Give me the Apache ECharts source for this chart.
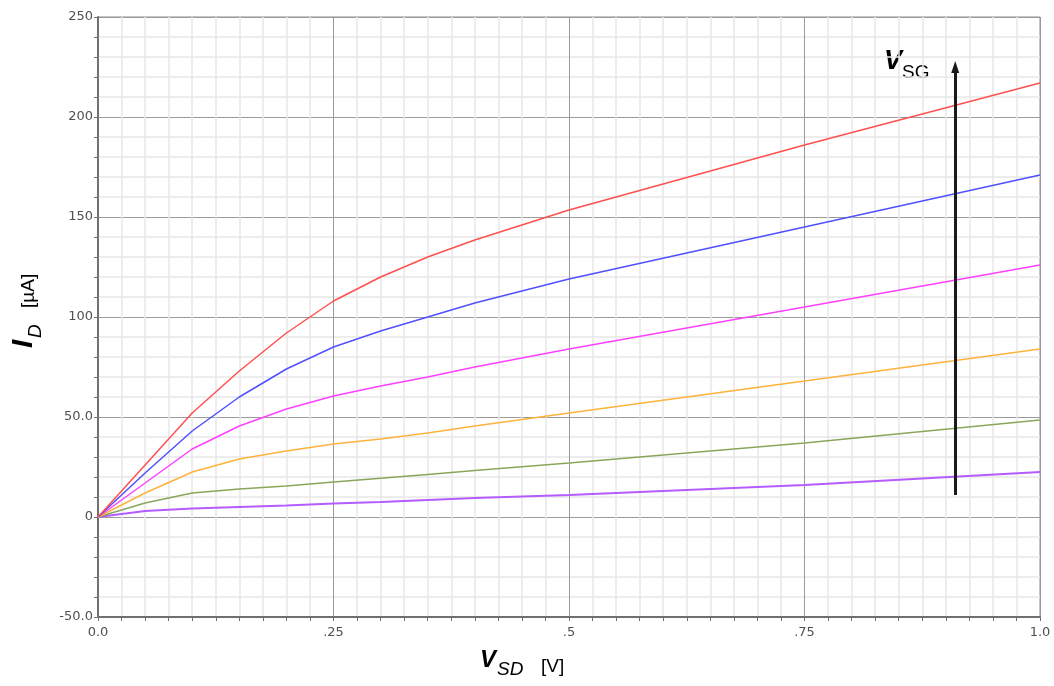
<!DOCTYPE html>
<html>
<head>
<meta charset="utf-8">
<script src="https://cdn.jsdelivr.net/npm/echarts@6/dist/echarts.min.js"></script>
<style>
  html, body { margin: 0; padding: 0; background: #ffffff; }
  #chart { width: 1054px; height: 686px; }
</style>
</head>
<body>
<div id="chart"></div>
<script>
// Source–drain voltage samples (V)
const vsd = [0, 0.05, 0.1, 0.15, 0.2, 0.25, 0.3, 0.35, 0.4, 0.45, 0.5, 0.75, 1.0];

// Drain current (µA) for six gate voltages, lowest to highest
const idVsg1 = [0, 3, 4.2, 5, 5.8, 6.7, 7.5, 8.5, 9.5, 10.3, 11, 16, 22.5];
const idVsg2 = [0, 7, 12, 14, 15.5, 17.5, 19.4, 21.3, 23.2, 25.1, 27, 37, 48.5];
const idVsg3 = [0, 12, 22.5, 29, 33, 36.5, 39, 42, 45.5, 48.8, 52, 68, 84];
const idVsg4 = [0, 17, 34, 45.5, 54, 60.5, 65.5, 70, 75, 79.5, 84, 105, 126];
const idVsg5 = [0, 22, 43, 60, 74, 85, 93, 100, 107, 113, 119, 145, 171];
const idVsg6 = [0, 26, 52, 73, 92, 108, 120, 130, 138.5, 146, 153.5, 186, 217];

const curveColors = ['#b45cff', '#8aa65a', '#ffb23c', '#ff40ff', '#5050ff', '#ff5050'];

// Axis tick positions and their printed labels
const xTickValues = [0, 0.25, 0.5, 0.75, 1.0];
const xTickLabels = ['0.0', '.25', '.5', '.75', '1.0'];
const yTickValues = [-50, 0, 50, 100, 150, 200, 250];
const yTickLabels = ['-50.0', '0', '50.0', '100', '150', '200', '250'];

// V_SG arrow end points in data units (V, µA)
const arrowX = 0.91;
const arrowFrom = 11;
const arrowTo = 225;

function tickLabel(values, labels) {
  return function (v) {
    const i = values.findIndex(t => Math.abs(t - v) < 1e-9);
    return i >= 0 ? labels[i] : '';
  };
}

const curves = [idVsg1, idVsg2, idVsg3, idVsg4, idVsg5, idVsg6];

const series = curves.map((ys, k) => ({
  type: 'line',
  data: vsd.map((x, i) => [x, ys[i]]),
  showSymbol: false,
  smooth: false,
  lineStyle: { color: curveColors[k], width: k === 0 ? 2 : 1.5 },
  z: 3
}));

// Arrow indicating increasing V_SG
series.push({
  type: 'line',
  data: [],
  silent: true,
  markLine: {
    silent: true,
    symbol: ['none', 'triangle'],
    symbolSize: [8, 12],
    label: { show: false },
    lineStyle: { color: '#1a1a1a', width: 3, type: 'solid' },
    itemStyle: { color: '#1a1a1a' },
    data: [[{ coord: [arrowX, arrowFrom] }, { coord: [arrowX, arrowTo] }]]
  },
  z: 4
});

const labelFont = { fontFamily: 'DejaVu Sans', fontSize: 13, color: '#505050' };

const option = {
  animation: false,
  backgroundColor: '#ffffff',
  grid: {
    left: 98, right: 14, top: 17, bottom: 69,
    show: true, borderColor: '#8c8c8c', borderWidth: 1, backgroundColor: 'transparent'
  },
  xAxis: {
    type: 'value',
    min: 0, max: 1, interval: 0.25,
    axisLine: { show: true, onZero: false, lineStyle: { color: '#707070', width: 2 } },
    axisTick: { show: true, length: 4, lineStyle: { color: '#707070' } },
    minorTick: { show: true, splitNumber: 10, length: 4, lineStyle: { color: '#707070' } },
    splitLine: { show: true, lineStyle: { color: '#9a9a9a', width: 1 } },
    minorSplitLine: { show: true, lineStyle: { color: '#e8e8e8', width: 1.5 } },
    axisLabel: Object.assign({ margin: 9, formatter: tickLabel(xTickValues, xTickLabels) }, labelFont)
  },
  yAxis: {
    type: 'value',
    min: -50, max: 250, interval: 50,
    axisLine: { show: true, onZero: false, lineStyle: { color: '#707070', width: 2 } },
    axisTick: { show: true, length: 4, lineStyle: { color: '#707070' } },
    minorTick: { show: true, splitNumber: 5, length: 4, lineStyle: { color: '#707070' } },
    splitLine: { show: true, lineStyle: { color: '#9a9a9a', width: 1 } },
    minorSplitLine: { show: true, lineStyle: { color: '#e8e8e8', width: 1.5 } },
    axisLabel: Object.assign({ margin: 5, formatter: tickLabel(yTickValues, yTickLabels) }, labelFont)
  },
  series: series,
  graphic: [
    // x-axis title: V_SD [V]
    {
      type: 'group', x: 480, y: 660, silent: true,
      children: [
        { type: 'text', x: 0, y: 0, style: { text: 'V', fontFamily: 'Liberation Sans', fontSize: 24, fontWeight: 'bold', fontStyle: 'italic', fill: '#000', verticalAlign: 'middle' } },
        { type: 'text', x: 17, y: 10, style: { text: 'SD', fontFamily: 'Liberation Sans', fontSize: 19, fontStyle: 'italic', fill: '#000', verticalAlign: 'middle' } },
        { type: 'text', x: 61, y: 7, style: { text: '[V]', fontFamily: 'Liberation Sans', fontSize: 19, fill: '#000', verticalAlign: 'middle' } }
      ]
    },
    // y-axis title: I_D [µA], reading bottom to top
    {
      type: 'group', x: 0, y: 348, rotation: Math.PI / 2, silent: true,
      children: [
        { type: 'text', x: 0, y: 24, style: { text: 'I', fontFamily: 'Liberation Sans', fontSize: 30, fontWeight: 'bold', fontStyle: 'italic', fill: '#000', verticalAlign: 'middle' } },
        { type: 'text', x: 10, y: 36, style: { text: 'D', fontFamily: 'Liberation Sans', fontSize: 19, fontStyle: 'italic', fill: '#000', verticalAlign: 'middle' } },
        { type: 'text', x: 40, y: 29, style: { text: '[µA]', fontFamily: 'Liberation Sans', fontSize: 19, fill: '#000', verticalAlign: 'middle' } }
      ]
    },
    // label on the V_SG arrow
    {
      type: 'group', x: 884, y: 62, silent: true,
      children: [
        { type: 'text', x: 0, y: 0, style: { text: 'V', fontFamily: 'Liberation Sans', fontSize: 27, fontWeight: 'bold', fontStyle: 'italic', fill: '#000', verticalAlign: 'middle' } },
        { type: 'text', x: 18, y: 11, style: { text: 'SG', fontFamily: 'Liberation Sans', fontSize: 19, fill: '#000', verticalAlign: 'middle' } }
      ]
    }
  ]
};

const chart = echarts.init(document.getElementById('chart'), null, { renderer: 'canvas' });
chart.setOption(option);
</script>
</body>
</html>
